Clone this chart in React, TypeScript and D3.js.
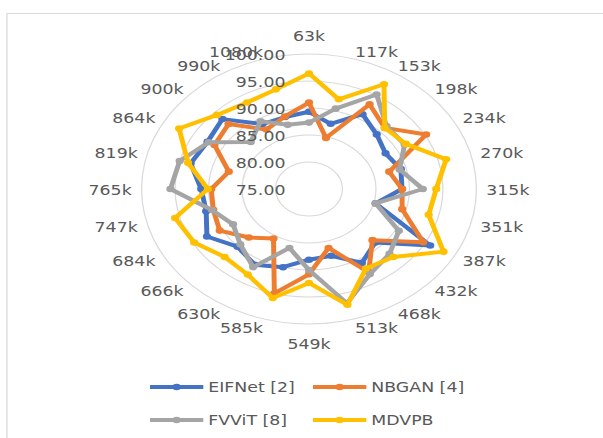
import { useEffect, useRef } from 'react';
import * as d3 from 'd3';

const categories = ['63k', '117k', '153k', '198k', '234k', '270k', '315k', '351k', '387k', '432k', '468k', '513k',
  '549k', '585k', '630k', '666k', '684k', '747k', '765k', '819k', '864k', '900k', '990k', '1080k'];

const eifnet = [89.3, 87.5, 91.0, 89.3, 88.2, 89.2, 88.9, 85.3, 95.9, 89.0, 90.8, 87.8,
  88.1, 90.0, 91.2, 90.1, 92.6, 90.9, 91.1, 93.3, 92.5, 93.3, 88.9, 88.8];
const nbgan = [91.0, 84.8, 93.1, 91.0, 95.2, 87.4, 88.9, 89.4, 94.7, 88.4, 92.8, 86.3,
  90.8, 95.0, 85.6, 87.7, 90.4, 89.8, 89.6, 87.4, 91.3, 92.0, 87.7, 88.9];
const fvvit = [87.3, 90.4, 95.2, 91.4, 91.5, 89.0, 92.0, 85.3, 90.5, 92.0, 93.2, 96.9,
  90.0, 86.3, 91.7, 89.5, 88.1, 90.0, 95.7, 95.0, 92.3, 87.3, 89.5, 87.3];
const mdvpb = [96.4, 92.2, 97.4, 91.0, 91.7, 96.2, 94.0, 93.5, 98.2, 92.8, 92.0, 97.2,
  92.4, 95.9, 93.3, 92.8, 94.8, 95.7, 90.1, 93.7, 97.4, 94.4, 93.5, 94.1];

const seriesNames = ['EIFNet [2]', 'NBGAN [4]', 'FVViT [8]', 'MDVPB'];
const seriesColors = ['#4472C4', '#ED7D31', '#A5A5A5', '#FFC000'];
const valueTicks = [75, 80, 85, 90, 95, 100];

const App = () => {
  const svgRef = useRef<SVGSVGElement>(null);
  const width = 603;
  const height = 438;

  useEffect(() => {
    if (!svgRef.current) return;
    const svg = d3.select(svgRef.current);
    svg.selectAll('*').remove();

    // the picture is stretched sideways, so draw in a squeezed space and scale x
    const sx = 1.24;
    const root = svg.append('g').attr('transform', `scale(${sx},1)`);
    const font = 'DejaVu Sans, sans-serif';
    const textColor = '#595959';

    root.append('rect')
      .attr('x', 5.6).attr('y', 13.5)
      .attr('width', 600).attr('height', 500)
      .attr('fill', 'none')
      .attr('stroke', '#d9d9d9')
      .attr('stroke-width', 1);

    const cx = 309 / sx;
    const cy = 189;
    const R = 135;
    const g = root.append('g').attr('transform', `translate(${cx},${cy})`);

    const r = d3.scaleLinear().domain([75, 100]).range([0, R]);
    const step = (2 * Math.PI) / categories.length;

    g.selectAll('.ring')
      .data(valueTicks.slice(1))
      .enter().append('circle')
      .attr('r', d => r(d))
      .attr('fill', 'none')
      .attr('stroke', '#d9d9d9')
      .attr('stroke-width', 1);

    // category labels
    g.selectAll('.cat')
      .data(categories)
      .enter().append('text')
      .attr('x', (_, i) => Math.sin(i * step) * (R + 8))
      .attr('y', (_, i) => {
        const s = Math.sin(i * step);
        const c = Math.cos(i * step);
        const base = -c * (R + 8) + 1;
        return Math.abs(s) < 0.01 ? base - c * 11 : base;
      })
      .attr('text-anchor', (_, i) => {
        const s = Math.sin(i * step);
        return Math.abs(s) < 0.01 ? 'middle' : s > 0 ? 'start' : 'end';
      })
      .attr('dominant-baseline', 'central')
      .attr('font-family', font)
      .attr('font-size', 14)
      .attr('fill', textColor)
      .text(d => d);

    const allSeries = [eifnet, nbgan, fvvit, mdvpb];
    const line = d3.lineRadial<number>()
      .angle((_, i) => i * step)
      .radius(d => r(d))
      .curve(d3.curveLinearClosed);

    allSeries.forEach((vals, k) => {
      g.append('path')
        .datum(vals)
        .attr('d', line)
        .attr('fill', 'none')
        .attr('stroke', seriesColors[k])
        .attr('stroke-width', 4)
        .attr('stroke-linejoin', 'round');
      g.selectAll(`.m${k}`)
        .data(vals)
        .enter().append('circle')
        .attr('cx', (d, i) => Math.sin(i * step) * r(d))
        .attr('cy', (d, i) => -Math.cos(i * step) * r(d))
        .attr('r', 3.3)
        .attr('fill', seriesColors[k]);
    });

    // value axis labels
    g.selectAll('.val')
      .data(valueTicks)
      .enter().append('text')
      .attr('x', -19)
      .attr('y', d => -r(d) + 1)
      .attr('text-anchor', 'end')
      .attr('dominant-baseline', 'central')
      .attr('font-family', font)
      .attr('font-size', 14)
      .attr('fill', textColor)
      .text(d => d3.format('.2f')(d));

    // legend
    const legend = root.append('g');
    const lx = [150 / sx, 313 / sx];
    const ly = [387, 420];
    seriesNames.forEach((name, k) => {
      const x0 = lx[k % 2];
      const y0 = ly[Math.floor(k / 2)];
      legend.append('line')
        .attr('x1', x0).attr('x2', x0 + 43)
        .attr('y1', y0).attr('y2', y0)
        .attr('stroke', seriesColors[k])
        .attr('stroke-width', 4);
      legend.append('circle')
        .attr('cx', x0 + 21.5).attr('cy', y0)
        .attr('r', 3.3)
        .attr('fill', seriesColors[k]);
      legend.append('text')
        .attr('x', x0 + 47)
        .attr('y', y0)
        .attr('dominant-baseline', 'central')
        .attr('font-family', font)
        .attr('font-size', 14)
        .attr('fill', textColor)
        .text(name);
    });
  }, []);

  return (
    <svg
      ref={svgRef}
      width={width}
      height={height}
      style={{ position: 'absolute', left: 0, top: 0, background: '#fff' }}
    />
  );
};

export default App;
